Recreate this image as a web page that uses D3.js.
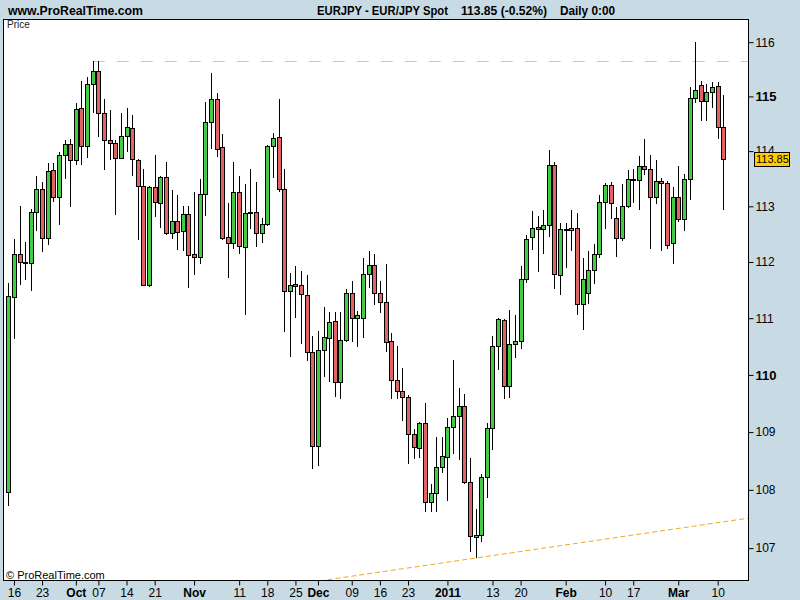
<!DOCTYPE html>
<html><head><meta charset="utf-8">
<script src="https://cdn.jsdelivr.net/npm/d3@7"></script>
<style>
html,body{margin:0;padding:0;background:#c8dbe5;}
svg{display:block;font-family:Arial,"Liberation Sans",sans-serif;}
</style></head><body>
<svg id="chart" width="800" height="600"></svg>
<script>
// ---- data ----
const startDate = "2010-09-15", endDate = "2011-03-11";
const open  = [107.97,111.38,112.14,112.00,111.98,112.90,113.31,112.43,113.66,113.17,113.93,114.13,113.84,114.78,114.09,115.23,115.46,114.69,114.20,114.15,113.87,114.27,114.42,113.84,113.37,111.59,113.35,113.06,113.53,112.52,112.73,112.55,112.86,112.14,112.09,113.22,114.53,114.95,114.07,112.45,112.34,113.26,112.27,112.88,112.90,112.52,112.68,114.09,114.26,113.31,111.48,111.60,111.59,111.41,110.40,108.75,110.44,110.65,110.95,109.87,110.61,111.45,111.00,111.00,111.78,111.94,111.45,111.29,110.60,109.91,109.72,109.61,108.97,108.72,109.16,107.79,107.94,108.39,108.57,109.09,109.28,109.45,108.13,107.19,107.22,108.23,109.07,110.51,110.97,109.80,110.54,110.60,111.69,112.45,112.63,112.59,112.66,113.75,111.77,112.59,112.57,112.61,111.25,111.45,111.86,112.14,113.08,113.38,112.79,112.43,113.00,113.49,113.47,113.73,113.67,113.17,113.45,113.42,112.34,113.17,112.77,113.49,114.97,115.21,114.91,115.08,115.19,114.44];
const high  = [111.62,112.41,113.00,112.36,112.95,113.54,113.44,113.78,113.78,113.98,114.21,114.22,114.88,115.28,115.35,115.65,115.66,114.95,114.75,114.20,114.69,114.78,114.66,113.86,113.68,113.36,113.93,113.55,113.80,113.30,113.21,113.00,113.00,113.25,113.50,114.89,115.43,115.06,114.31,113.06,113.81,113.55,113.41,113.67,113.44,112.79,114.11,114.33,114.95,113.68,111.81,111.93,111.84,111.77,110.69,110.77,111.20,111.11,111.11,111.11,111.51,111.66,111.13,112.07,112.20,112.14,111.66,111.96,110.74,110.50,110.12,109.65,109.05,109.17,109.51,108.10,108.92,108.91,109.25,110.26,109.77,109.66,108.55,107.67,108.27,109.16,110.68,111.00,110.98,111.14,111.05,111.93,112.49,112.92,112.83,112.94,114.02,113.80,112.70,112.70,112.93,112.88,112.07,112.20,112.32,113.21,113.42,113.44,112.99,113.41,113.66,113.68,113.91,114.22,113.93,113.84,113.51,113.45,113.35,113.73,113.58,115.17,116.00,115.28,115.23,115.26,115.26,115.02];
const low   = [107.73,110.64,111.59,111.68,111.48,112.55,112.18,112.31,113.07,112.67,113.49,112.98,113.75,113.74,113.88,114.69,114.25,113.66,113.83,112.85,113.87,113.99,113.54,112.40,111.57,111.56,112.81,112.61,112.48,112.41,112.21,112.20,111.53,111.77,111.96,112.83,114.04,113.90,112.40,111.72,112.23,112.14,111.05,112.60,112.26,112.34,112.64,113.52,113.25,110.75,110.31,111.01,110.55,110.25,108.36,108.42,109.97,109.88,109.62,109.58,110.58,110.58,110.49,110.65,111.54,111.23,111.09,110.40,109.58,109.58,109.20,108.45,108.54,108.55,107.62,107.62,107.62,108.29,107.80,108.62,108.51,108.10,106.94,106.83,107.10,107.86,108.69,110.08,109.58,109.60,110.30,110.45,111.63,112.22,111.83,112.15,112.44,111.51,111.42,111.89,112.20,111.06,110.79,111.25,111.60,112.07,112.60,112.77,112.09,112.37,112.97,113.06,112.94,113.56,112.23,113.04,112.19,112.23,111.96,112.72,112.56,113.11,114.88,114.55,114.55,114.78,114.22,112.93];
const close = [111.39,112.14,112.00,111.99,112.90,113.31,112.43,113.64,113.17,113.93,114.13,113.84,114.77,114.09,115.23,115.46,114.69,114.20,114.15,113.87,114.27,114.44,113.86,113.37,111.59,113.35,113.08,113.53,112.52,112.73,112.54,112.86,112.12,112.09,113.22,114.53,114.95,114.04,112.43,112.34,113.26,112.29,112.88,112.90,112.52,112.68,114.09,114.24,113.31,111.48,111.59,111.58,111.43,110.40,108.75,110.44,110.67,110.93,109.87,110.61,111.45,111.00,111.05,111.78,111.94,111.45,111.29,110.58,109.91,109.72,109.61,108.97,108.74,109.16,107.79,107.94,108.39,108.58,109.09,109.28,109.45,108.13,107.21,107.22,108.23,109.07,110.51,110.98,109.80,110.54,110.60,111.69,112.41,112.61,112.59,112.66,113.75,111.78,112.59,112.57,112.61,111.25,111.69,111.86,112.14,113.08,113.38,113.06,112.43,113.00,113.49,113.48,113.73,113.67,113.17,113.45,113.42,112.30,113.17,112.77,113.49,114.97,115.11,114.91,115.08,115.17,114.44,113.85];

const yTicks = [107,108,109,110,111,112,113,114,115,116];
const yBoldTicks = [110,115];
const xTickDates  = ["2010-09-16","2010-09-23","2010-10-01","2010-10-07","2010-10-14","2010-10-21","2010-11-01","2010-11-11","2010-11-18","2010-11-25","2010-12-01","2010-12-09","2010-12-16","2010-12-23","2011-01-03","2011-01-13","2011-01-20","2011-02-01","2011-02-10","2011-02-17","2011-03-01","2011-03-10"];
const xTickLabels = ["16","23","Oct","07","14","21","Nov","11","18","25","Dec","09","16","23","2011","13","20","Feb","10","17","Mar","10"];
const xTickBold   = [0,0,1,0,0,0,1,0,0,0,1,0,0,0,1,0,0,1,0,0,1,0];
const lastPrice = 113.85;
const lastLabel = "113.85";
const refLevel = 115.65, refStartIndex = 15;
const trendIndex = [83,127], trendPrice = [106.83,107.45];
const headerLeft = "www.ProRealTime.com";
const headerParts = ["EURJPY - EUR/JPY Spot","113.85 (-0.52%)","Daily 0:00"];

// ---- layout ----
const L = 3, R = 749, T = 19, B = 581;
const svg = d3.select("#chart");
const fmt = d3.timeFormat("%Y-%m-%d");
const parse = d3.timeParse("%Y-%m-%d");
const days = d3.timeDay.range(parse(startDate), d3.timeDay.offset(parse(endDate),1))
  .filter(d => d.getDay() !== 0 && d.getDay() !== 6).map(fmt);
const data = days.map((d,i) => ({d, o:open[i], h:high[i], l:low[i], c:close[i]}));

const x = d3.scalePoint().domain(days).range([8.3, 723.3]);
const y = d3.scaleLog().domain([106.44, 116.43]).range([B, T]);

svg.append("rect").attr("width",800).attr("height",600).attr("fill","#c8dbe5");
svg.append("rect").attr("x",L).attr("y",T).attr("width",R-L).attr("height",B-T).attr("fill","#fff");

svg.append("defs").append("clipPath").attr("id","clip")
  .append("rect").attr("x",L).attr("y",T).attr("width",R-L).attr("height",B-T);
const plot = svg.append("g").attr("clip-path","url(#clip)");

// reference dashed line
const ry = Math.round(y(refLevel)) + 0.5;
plot.append("line").attr("x1", x(days[refStartIndex])).attr("x2", R).attr("y1", ry).attr("y2", ry)
  .attr("stroke","#c8c8c8").attr("stroke-width",1).attr("stroke-dasharray","12,12");

// trend line
const tx1 = x(days[trendIndex[0]]), ty1 = y(trendPrice[0]);
const tx2 = x(days[trendIndex[1]]), ty2 = y(trendPrice[1]);
const m = (ty2-ty1)/(tx2-tx1);
plot.append("line").attr("x1", L).attr("y1", ty1 + m*(L-tx1)).attr("x2", R).attr("y2", ty1 + m*(R-tx1))
  .attr("stroke","#f5a623").attr("stroke-width",1).attr("stroke-dasharray","5,3");

// candles
const cg = plot.append("g");
cg.selectAll("line.w").data(data).join("line").attr("class","w")
  .attr("x1", d => Math.round(x(d.d)) + 0.5).attr("x2", d => Math.round(x(d.d)) + 0.5)
  .attr("y1", d => Math.round(y(d.h))).attr("y2", d => Math.round(y(d.l)))
  .attr("stroke","#000").attr("stroke-width",1);
cg.selectAll("rect.b").data(data).join("rect").attr("class","b")
  .attr("x", d => Math.round(x(d.d)) - 1.5)
  .attr("width", 4)
  .attr("y", d => Math.round(y(Math.max(d.o,d.c))) + 0.5)
  .attr("height", d => Math.max(0, Math.round(y(Math.min(d.o,d.c))) - Math.round(y(Math.max(d.o,d.c)))))
  .attr("fill", d => d.c >= d.o ? "#44cc44" : "#e06464")
  .attr("stroke","#000").attr("stroke-width",1);

// frame
svg.append("rect").attr("x",L+0.5).attr("y",T+0.5).attr("width",R-L-1).attr("height",B-T-1)
  .attr("fill","none").attr("stroke","#000").attr("stroke-width",1);

// y axis
const yAxis = d3.axisRight(y).tickValues(yTicks).tickSize(5).tickPadding(2).tickFormat(d3.format("d"));
const yg = svg.append("g").attr("transform",`translate(${R-0.5},0)`).call(yAxis);
yg.select(".domain").remove();
yg.selectAll(".tick line").attr("stroke","#000");
yg.selectAll(".tick text").attr("fill","#000").attr("font-size", d => yBoldTicks.includes(d) ? 13 : 12)
  .attr("font-weight", d => yBoldTicks.includes(d) ? "bold" : "normal")
  .attr("font-family","Arial,'Liberation Sans',sans-serif");

// x axis
const xAxis = d3.axisBottom(x).tickValues(xTickDates).tickSize(5).tickPadding(3)
  .tickFormat((d,i) => xTickLabels[i]);
const xg = svg.append("g").attr("transform",`translate(0,${B-0.5})`).call(xAxis);
xg.select(".domain").remove();
xg.selectAll(".tick line").attr("stroke","#000");
xg.selectAll(".tick text").attr("fill","#000").attr("font-size",12).attr("dy","0.71em")
  .attr("font-weight", (d,i) => xTickBold[i] ? "bold" : "normal")
  .attr("font-family","Arial,'Liberation Sans',sans-serif");

// last price box
const ly = y(lastPrice);
svg.append("rect").attr("x",754.5).attr("y",Math.round(ly-7)+0.5).attr("width",35).attr("height",14)
  .attr("fill","#ffcc00").attr("stroke","#000").attr("stroke-width",1);
svg.append("text").attr("x",756).attr("y",Math.round(ly)+4).attr("font-size",11).attr("fill","#000").text(lastLabel);

// texts
svg.append("text").attr("x",8).attr("y",15).attr("font-size",13).attr("font-weight","bold")
  .attr("textLength",135).attr("lengthAdjust","spacingAndGlyphs").text(headerLeft);
const hx = [317,461,560], hw = [131,86,55];
headerParts.forEach((t,i) => svg.append("text").attr("x",hx[i]).attr("y",15).attr("font-size",13)
  .attr("font-weight","bold").attr("textLength",hw[i]).attr("lengthAdjust","spacingAndGlyphs").text(t));
svg.append("text").attr("x",7).attr("y",28).attr("font-size",10).attr("fill","#222").text("Price");
svg.append("text").attr("x",6).attr("y",579).attr("font-size",11).attr("fill","#000").text("© ProRealTime.com");
</script>
</body></html>
